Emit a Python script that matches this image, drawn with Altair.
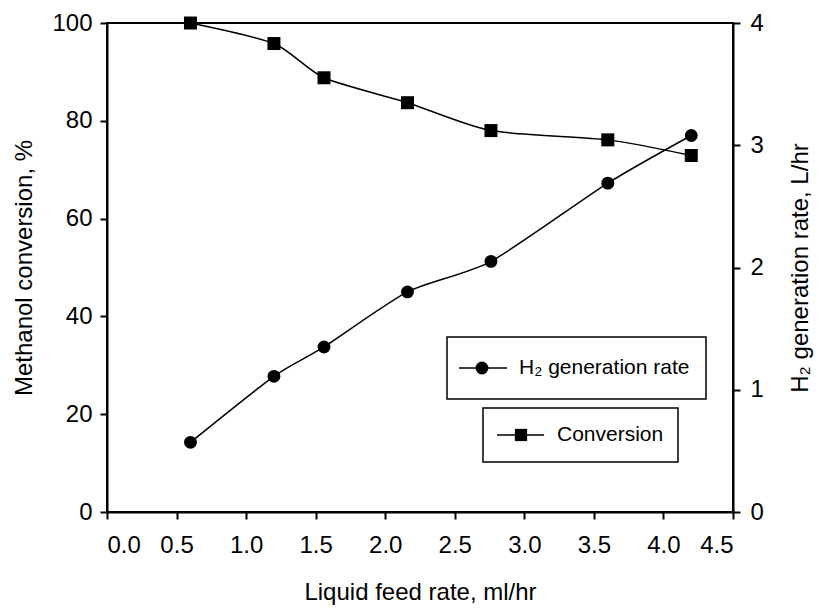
import altair as alt
import pandas as pd

# ---- data ----
feed = [0.6, 1.2, 1.56, 2.16, 2.76, 3.6, 4.2]
conversion = [100.0, 95.8, 88.8, 83.7, 78.0, 76.1, 72.9]
h2_rate = [0.57, 1.11, 1.35, 1.80, 2.05, 2.69, 3.08]

x_ticks = [0.0, 0.5, 1.0, 1.5, 2.0, 2.5, 3.0, 3.5, 4.0, 4.5]
left_ticks = [0, 20, 40, 60, 80, 100]
right_ticks = [0, 1, 2, 3, 4]
series_names = ["H\u2082 generation rate", "Conversion"]

df = pd.DataFrame({"feed": feed, "conversion": conversion, "h2": h2_rate})
dummy = pd.DataFrame({"k": [0]})

FONT = "Liberation Sans"

x_enc = alt.X(
    "feed:Q",
    scale=alt.Scale(domain=[0, 4.5], nice=False),
    axis=alt.Axis(title="Liquid feed rate, ml/hr", values=x_ticks, format=".1f",
                  labelPadding=14, titlePadding=23),
)

y_left = alt.Y(
    "conversion:Q",
    scale=alt.Scale(domain=[0, 100], nice=False),
    axis=alt.Axis(title="Methanol conversion, %", orient="left", values=left_ticks,
                  format="d", labelPadding=8, titlePadding=15),
)

y_right = alt.Y(
    "h2:Q",
    scale=alt.Scale(domain=[0, 4], nice=False),
    axis=alt.Axis(title="H\u2082 generation rate, L/hr", orient="right", values=right_ticks,
                  format="d", labelPadding=10, titlePadding=25, titleAngle=270,
                  titleBaseline="top"),
)

line_mark = dict(color="black", strokeWidth=1.5, interpolate="cardinal", tension=0.3)
base = alt.Chart(df)
conv_layer = alt.layer(
    base.mark_line(**line_mark).encode(x=x_enc, y=y_left),
    base.mark_point(shape="square", filled=True, size=169, color="black", opacity=1).encode(x=x_enc, y=y_left),
)
h2_layer = alt.layer(
    base.mark_line(**line_mark).encode(x=x_enc, y=y_right),
    base.mark_circle(size=165, color="black", opacity=1).encode(x=x_enc, y=y_right),
)

leg = alt.Chart(dummy)
legend = alt.layer(
    leg.mark_rect(fill="white", stroke="black", strokeWidth=1.5).encode(
        x=alt.value(340), x2=alt.value(599), y=alt.value(314), y2=alt.value(376)),
    leg.mark_rule(color="black", strokeWidth=1.5).encode(
        x=alt.value(352), x2=alt.value(400), y=alt.value(345)),
    leg.mark_circle(size=165, color="black", opacity=1).encode(
        x=alt.value(375), y=alt.value(345)),
    leg.mark_text(align="left", baseline="middle", fontSize=21, font=FONT, color="black",
                  text=series_names[0]).encode(x=alt.value(412), y=alt.value(345)),
    leg.mark_rect(fill="white", stroke="black", strokeWidth=1.5).encode(
        x=alt.value(376), x2=alt.value(571), y=alt.value(385), y2=alt.value(439)),
    leg.mark_rule(color="black", strokeWidth=1.5).encode(
        x=alt.value(390), x2=alt.value(437), y=alt.value(412)),
    leg.mark_point(shape="square", filled=True, size=150, color="black", opacity=1).encode(
        x=alt.value(414), y=alt.value(412)),
    leg.mark_text(align="left", baseline="middle", fontSize=21, font=FONT, color="black",
                  text=series_names[1]).encode(x=alt.value(450), y=alt.value(412)),
)

chart = (
    alt.layer(conv_layer, h2_layer, legend)
    .resolve_scale(y="independent")
    .properties(width=626, height=489, autosize="none", background="white",
                padding={"left": 99, "top": 15, "right": 82, "bottom": 95})
    .configure_view(stroke="black", strokeWidth=2)
    .configure_axis(
        labelFont=FONT, titleFont=FONT, labelFontSize=24, titleFontSize=24,
        titleFontWeight="normal", labelColor="black", titleColor="black",
        domainColor="black", tickColor="black", domainWidth=2, tickWidth=2,
        tickSize=7, grid=False,
    )
)

chart.save("out.html", embed_options={"renderer": "svg", "actions": False})
